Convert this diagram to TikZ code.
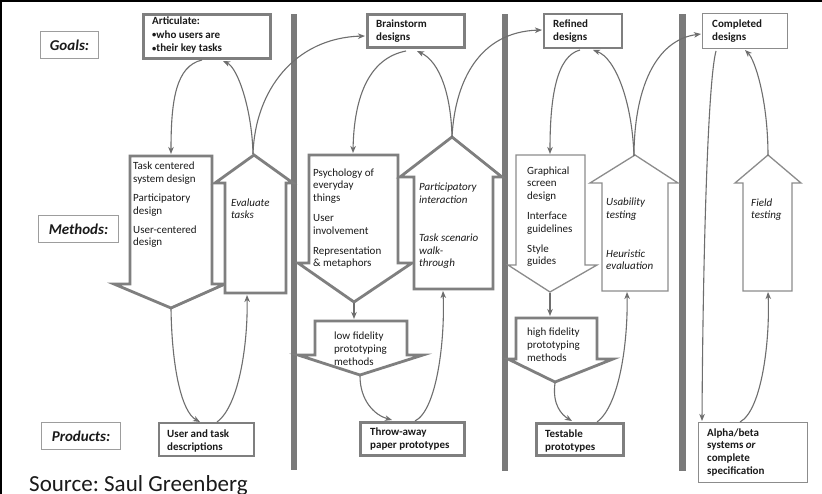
\documentclass[tikz,border=0pt]{standalone}
\usepackage{fontspec}
\setmainfont{Carlito}
\usetikzlibrary{arrows.meta,fit}
\definecolor{edge}{HTML}{7F7F7F}
\definecolor{thinedge}{HTML}{8C8C8C}
\definecolor{linkgray}{HTML}{6E6E6E}
\definecolor{bargray}{HTML}{7A7A7A}
\definecolor{ink}{HTML}{1A1A1A}
\newcommand{\smallbullet}{\raisebox{0.6pt}{\fontsize{8.5}{9}\selectfont•}}

\begin{document}
\frenchspacing
\begin{tikzpicture}[x=1pt,y=-1pt,
  heavy/.style={draw=edge, line width=2.8pt, fill=white, line join=miter, inner sep=0},
  medium/.style={draw=edge, line width=2pt, fill=white, line join=miter, inner sep=0},
  light/.style={draw=thinedge, line width=1.3pt, fill=white, line join=miter, inner sep=0},
  rowlabel/.style={draw=thinedge!85, line width=1pt, inner sep=0},
  rowtext/.style={text=ink, font=\fontsize{15}{18}\selectfont\bfseries\itshape},
  % text blocks are placed by the baseline of their last line
  txt/.style={anchor=base west, align=left, inner sep=0, text=ink, font=\fontsize{11}{12.8}\selectfont},
  btxt/.style={txt, font=\fontsize{11}{13}\selectfont\bfseries},
  itxt/.style={txt, font=\fontsize{11}{12.8}\selectfont\itshape},
  link/.style={draw=linkgray, line width=1.1pt, -{Stealth[length=7pt,width=5.5pt,inset=2pt]}},
  bar/.style={fill=bargray, draw=none}
]
\useasboundingbox (0,0) rectangle (822,494);
\fill[white] (0,0) rectangle (822,494);
% frame edges
\fill[black] (0,0) rectangle (822,1.8);
\fill[black] (0,0) rectangle (1.8,494);

% phase separators
\fill[bar] (291,14) rectangle (297,470);
\fill[bar] (502,14) rectangle (508,471);
\fill[bar] (679,14) rectangle (686,471);

% row labels
\node[rowlabel, fit={(40.5,31.5) (98.5,58.5)}] (goals) {};
\node[rowtext] at (goals.center) {Goals:};
\node[rowlabel, fit={(38.5,215.5) (118.5,242.5)}] (methods) {};
\node[rowtext] at (methods.center) {Methods:};
\node[rowlabel, fit={(41.5,422.5) (120.5,449.5)}] (products) {};
\node[rowtext] at (products.center) {Products:};

% ---------- goals ----------
\node[heavy, fit={(143.5,14.5) (270.5,58.5)}] (artic) {};
\node[btxt, font=\fontsize{11}{13.5}\selectfont\bfseries] (artic-t) at (152,52) {Articulate:\\\smallbullet who users are\\\smallbullet their key tasks};
\node[heavy, fit={(367.5,14.5) (464.5,47.5)}] (brain) {};
\node[btxt] (brain-t) at (376,41) {Brainstorm\\designs};
\node[medium, fit={(544,14) (622,48)}] (refined) {};
\node[btxt] (refined-t) at (553,41) {Refined\\designs};
\node[light, fit={(702.5,13.5) (787.5,48.5)}] (complete) {};
\node[btxt] (complete-t) at (712,41) {Completed\\designs};

% ---------- methods: block arrows ----------
% column 1
\draw[heavy] (130,156) -- (212,156) -- (212,284) -- (225,284) -- (171,308) -- (114,284) -- (130,284) -- cycle;
\draw[heavy] (225,293) -- (286,293) -- (286,183) -- (293,183) -- (254,155) -- (215,183) -- (225,183) -- cycle;
\node[txt] (tcsd-t) at (133,246) {Task centered\\system design\\[6pt]Participatory\\design\\[6pt]User-centered\\design};
\node[itxt] (eval-t) at (231,219) {Evaluate\\tasks};
% column 2
\draw[heavy] (309,155) -- (398,155) -- (398,263) -- (412,263) -- (354,302) -- (298,263) -- (309,263) -- cycle;
\draw[heavy] (414,289) -- (493,289) -- (493,177) -- (502,177) -- (452,137) -- (400,177) -- (414,177) -- cycle;
\draw[heavy] (315,321) -- (407,321) -- (407,355) -- (423,355) -- (360,375) -- (298,355) -- (315,355) -- cycle;
\node[txt] (psych-t) at (313,267) {Psychology of\\everyday\\things\\[7pt]User\\involvement\\[7pt]Representation\\\& metaphors};
\node[itxt] (partic-t) at (419,267) {Participatory\\interaction\\[25pt]Task scenario\\walk-\\through};
\node[txt] (lowfi-t) at (334,365) {low fidelity\\prototyping\\methods};
% column 3
\draw[light] (516,155) -- (585,155) -- (585,265) -- (597,265) -- (550,292) -- (508,265) -- (516,265) -- cycle;
\draw[light] (602,291) -- (668,291) -- (668,183) -- (678,183) -- (635,155) -- (590,183) -- (602,183) -- cycle;
\draw[heavy] (516,318) -- (597,318) -- (597,359) -- (613,359) -- (555,382) -- (508,359) -- (516,359) -- cycle;
\node[txt] (graph-t) at (527,265) {Graphical\\screen\\design\\[7pt]Interface\\guidelines\\[7pt]Style\\guides};
\node[itxt] (usab-t) at (606,270) {Usability\\testing\\[26pt]Heuristic\\evaluation};
\node[txt] (hifi-t) at (527,361) {high fidelity\\prototyping\\methods};
% column 4
\draw[light] (743,291) -- (792,291) -- (792,183) -- (801,183) -- (768,155) -- (735,183) -- (743,183) -- cycle;
\node[itxt] (field-t) at (751,219) {Field\\testing};

% ---------- products ----------
\node[medium, fit={(159,423) (254,456)}] (usertask) {};
\node[btxt] (usertask-t) at (167,450) {User and task\\descriptions};
\node[heavy, fit={(360.5,422.5) (464.5,455.5)}] (throw) {};
\node[btxt] (throw-t) at (370,448) {Throw-away\\paper prototypes};
\node[heavy, fit={(536.5,423.5) (623.5,455.5)}] (testable) {};
\node[btxt] (testable-t) at (545,450) {Testable\\prototypes};
\node[light, fit={(698.5,422.5) (807.5,482.5)}] (alpha) {};
\node[btxt, font=\fontsize{11}{12.6}\selectfont\bfseries] (alpha-t) at (707,474) {Alpha/beta\\systems \textit{or}\\complete\\specification};

\node[anchor=base west, inner sep=0, text=ink, font=\fontsize{23}{26}\selectfont] (source) at (29,491) {Source: Saul Greenberg};

% ---------- connector ends ----------
\coordinate (artic-out) at (202,60);
\coordinate (artic-in) at (223,61);
\coordinate (tcsd-in) at (171,154);
\coordinate (tcsd-tip) at (171,309);
\coordinate (eval-tip) at (253,154);
\coordinate (eval-in) at (247,295);
\coordinate (brain-in-l) at (365,36);
\coordinate (brain-out) at (406,51);
\coordinate (brain-in) at (417,51);
\coordinate (psych-in) at (353,153);
\coordinate (psych-tip) at (354,303);
\coordinate (lowfi-in) at (354,319);
\coordinate (lowfi-tip) at (360,376);
\coordinate (partic-tip) at (452,137);
\coordinate (partic-in) at (443,291);
\coordinate (throw-in) at (392,420);
\coordinate (throw-out) at (415,421);
\coordinate (refined-in-l) at (542,30);
\coordinate (refined-out) at (580,50);
\coordinate (refined-in) at (593,50);
\coordinate (graph-in) at (550,154);
\coordinate (graph-tip) at (550,293);
\coordinate (hifi-in) at (550,316);
\coordinate (hifi-tip) at (555,383);
\coordinate (usab-tip) at (634,156);
\coordinate (usab-in) at (627,292);
\coordinate (testable-in) at (572,421);
\coordinate (testable-out) at (597,422);
\coordinate (complete-in-l) at (701,34);
\coordinate (complete-out) at (716,51);
\coordinate (complete-in) at (745,50);
\coordinate (field-tip) at (768,156);
\coordinate (field-in) at (768,292);
\coordinate (alpha-in) at (702,421);
\coordinate (alpha-out) at (740,422);

% ---------- connectors ----------
\draw[link] (artic-out) .. controls (176,66) and (171,100) .. (tcsd-in);
\draw[link] (eval-tip) .. controls (252,110) and (238,68) .. (artic-in);
\draw[link] (eval-tip) .. controls (255,90) and (295,38) .. (brain-in-l);
\draw[link] (tcsd-tip) .. controls (172,370) and (182,412) .. (usertask.north -| 200,0);
\draw[link] (usertask.north -| 217,0) .. controls (240,405) and (248,340) .. (eval-in);

\draw[link] (brain-out) .. controls (370,58) and (354,95) .. (psych-in);
\draw[link] (partic-tip) .. controls (451,95) and (440,62) .. (brain-in);
\draw[link] (partic-tip) .. controls (455,80) and (480,32) .. (refined-in-l);
\draw[link] (psych-tip) -- (lowfi-in);
\draw[link] (lowfi-tip) .. controls (360,400) and (374,415) .. (throw-in);
\draw[link] (throw-out) .. controls (437,410) and (445,340) .. (partic-in);

\draw[link] (refined-out) .. controls (557,56) and (550,95) .. (graph-in);
\draw[link] (usab-tip) .. controls (632,100) and (615,58) .. (refined-in);
\draw[link] (usab-tip) .. controls (634,90) and (655,40) .. (complete-in-l);
\draw[link] (graph-tip) -- (hifi-in);
\draw[link] (hifi-tip) .. controls (552,405) and (562,415) .. (testable-in);
\draw[link] (testable-out) .. controls (620,405) and (628,340) .. (usab-in);

\draw[link] (complete-out) .. controls (708,80) and (703,250) .. (alpha-in);
\draw[link] (alpha-out) .. controls (762,410) and (770,340) .. (field-in);
\draw[link] (field-tip) .. controls (768,100) and (755,60) .. (complete-in);
\end{tikzpicture}
\end{document}
